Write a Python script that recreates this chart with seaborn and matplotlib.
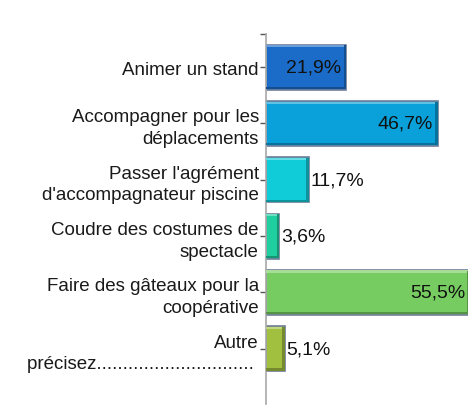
import matplotlib
matplotlib.use("Agg")
import matplotlib.pyplot as plt
import matplotlib.colors as mcolors
import pandas as pd
import seaborn as sns

categories = [
    "Animer un stand",
    "Accompagner pour les\ndéplacements",
    "Passer l'agrément\nd'accompagnateur piscine",
    "Coudre des costumes de\nspectacle",
    "Faire des gâteaux pour la\ncoopérative",
    "Autre\nprécisez.............................. ",
]
values = [21.9, 46.7, 11.7, 3.6, 55.5, 5.1]
value_labels = ["21,9%", "46,7%", "11,7%", "3,6%", "55,5%", "5,1%"]
colors = ["#1A6CC8", "#0AA0DA", "#10CCD8", "#20CFA0", "#76CC60", "#A2C040"]

sns.set_theme(style="white")
plt.rcParams["font.family"] = ["Liberation Sans", "DejaVu Sans"]

df = pd.DataFrame({"cat": categories, "val": values})

fig = plt.figure(figsize=(4.68, 4.06), dpi=100)
ax = fig.add_axes([0.568, 0.0025, 0.432, 0.9115])

bar_h = 0.8
sns.barplot(data=df, x="val", y="cat", hue="cat", palette=colors, legend=False,
            orient="h", width=bar_h, saturation=1, edgecolor="#6F7E98", linewidth=1.2, ax=ax)

# bevel look: light strip on top, dark strip at bottom and at the right end
for i, (v, c) in enumerate(zip(values, colors)):
    rgb = mcolors.to_rgb(c)
    light = tuple(min(1, x + (1 - x) * 0.35) for x in rgb)
    dark = tuple(x * 0.72 for x in rgb)
    ax.barh(i - bar_h / 2 + 0.03, v, height=0.04, color=light, linewidth=0, zorder=3)
    ax.barh(i + bar_h / 2 - 0.03, v, height=0.04, color=dark, linewidth=0, zorder=3)
    end_w = 0.8 if v > 5 else 0.45
    ax.barh(i, end_w, left=v - end_w, height=bar_h - 0.03,
            color=dark, linewidth=0, zorder=3)
    if v > 15:
        ax.text(v - 1.4, i, value_labels[i], ha="right", va="center", fontsize=14,
                color="#111111", zorder=4)
    else:
        ax.text(v + 0.5, i, value_labels[i], ha="left", va="center", fontsize=14,
                color="#111111", zorder=4)

ax.set_xlim(0, 54.9)
ax.set_ylim(5.98, -0.59)
ax.set_xlabel("")
ax.set_ylabel("")
ax.set_xticks([])
ax.set_yticks(range(len(categories)))
ax.set_yticklabels(categories, fontsize=13.5, color="#1A1A1A", multialignment="right",
                   linespacing=1.35)
ax.set_yticks([-0.59], minor=True)
ax.tick_params(axis="y", which="both", left=True, length=4, width=1, color="#555555", pad=1)

for s in ["top", "right", "bottom"]:
    ax.spines[s].set_visible(False)
ax.spines["left"].set_color("#A8A8A8")
ax.spines["left"].set_linewidth(1.2)

fig.savefig("out.png", dpi=100)
